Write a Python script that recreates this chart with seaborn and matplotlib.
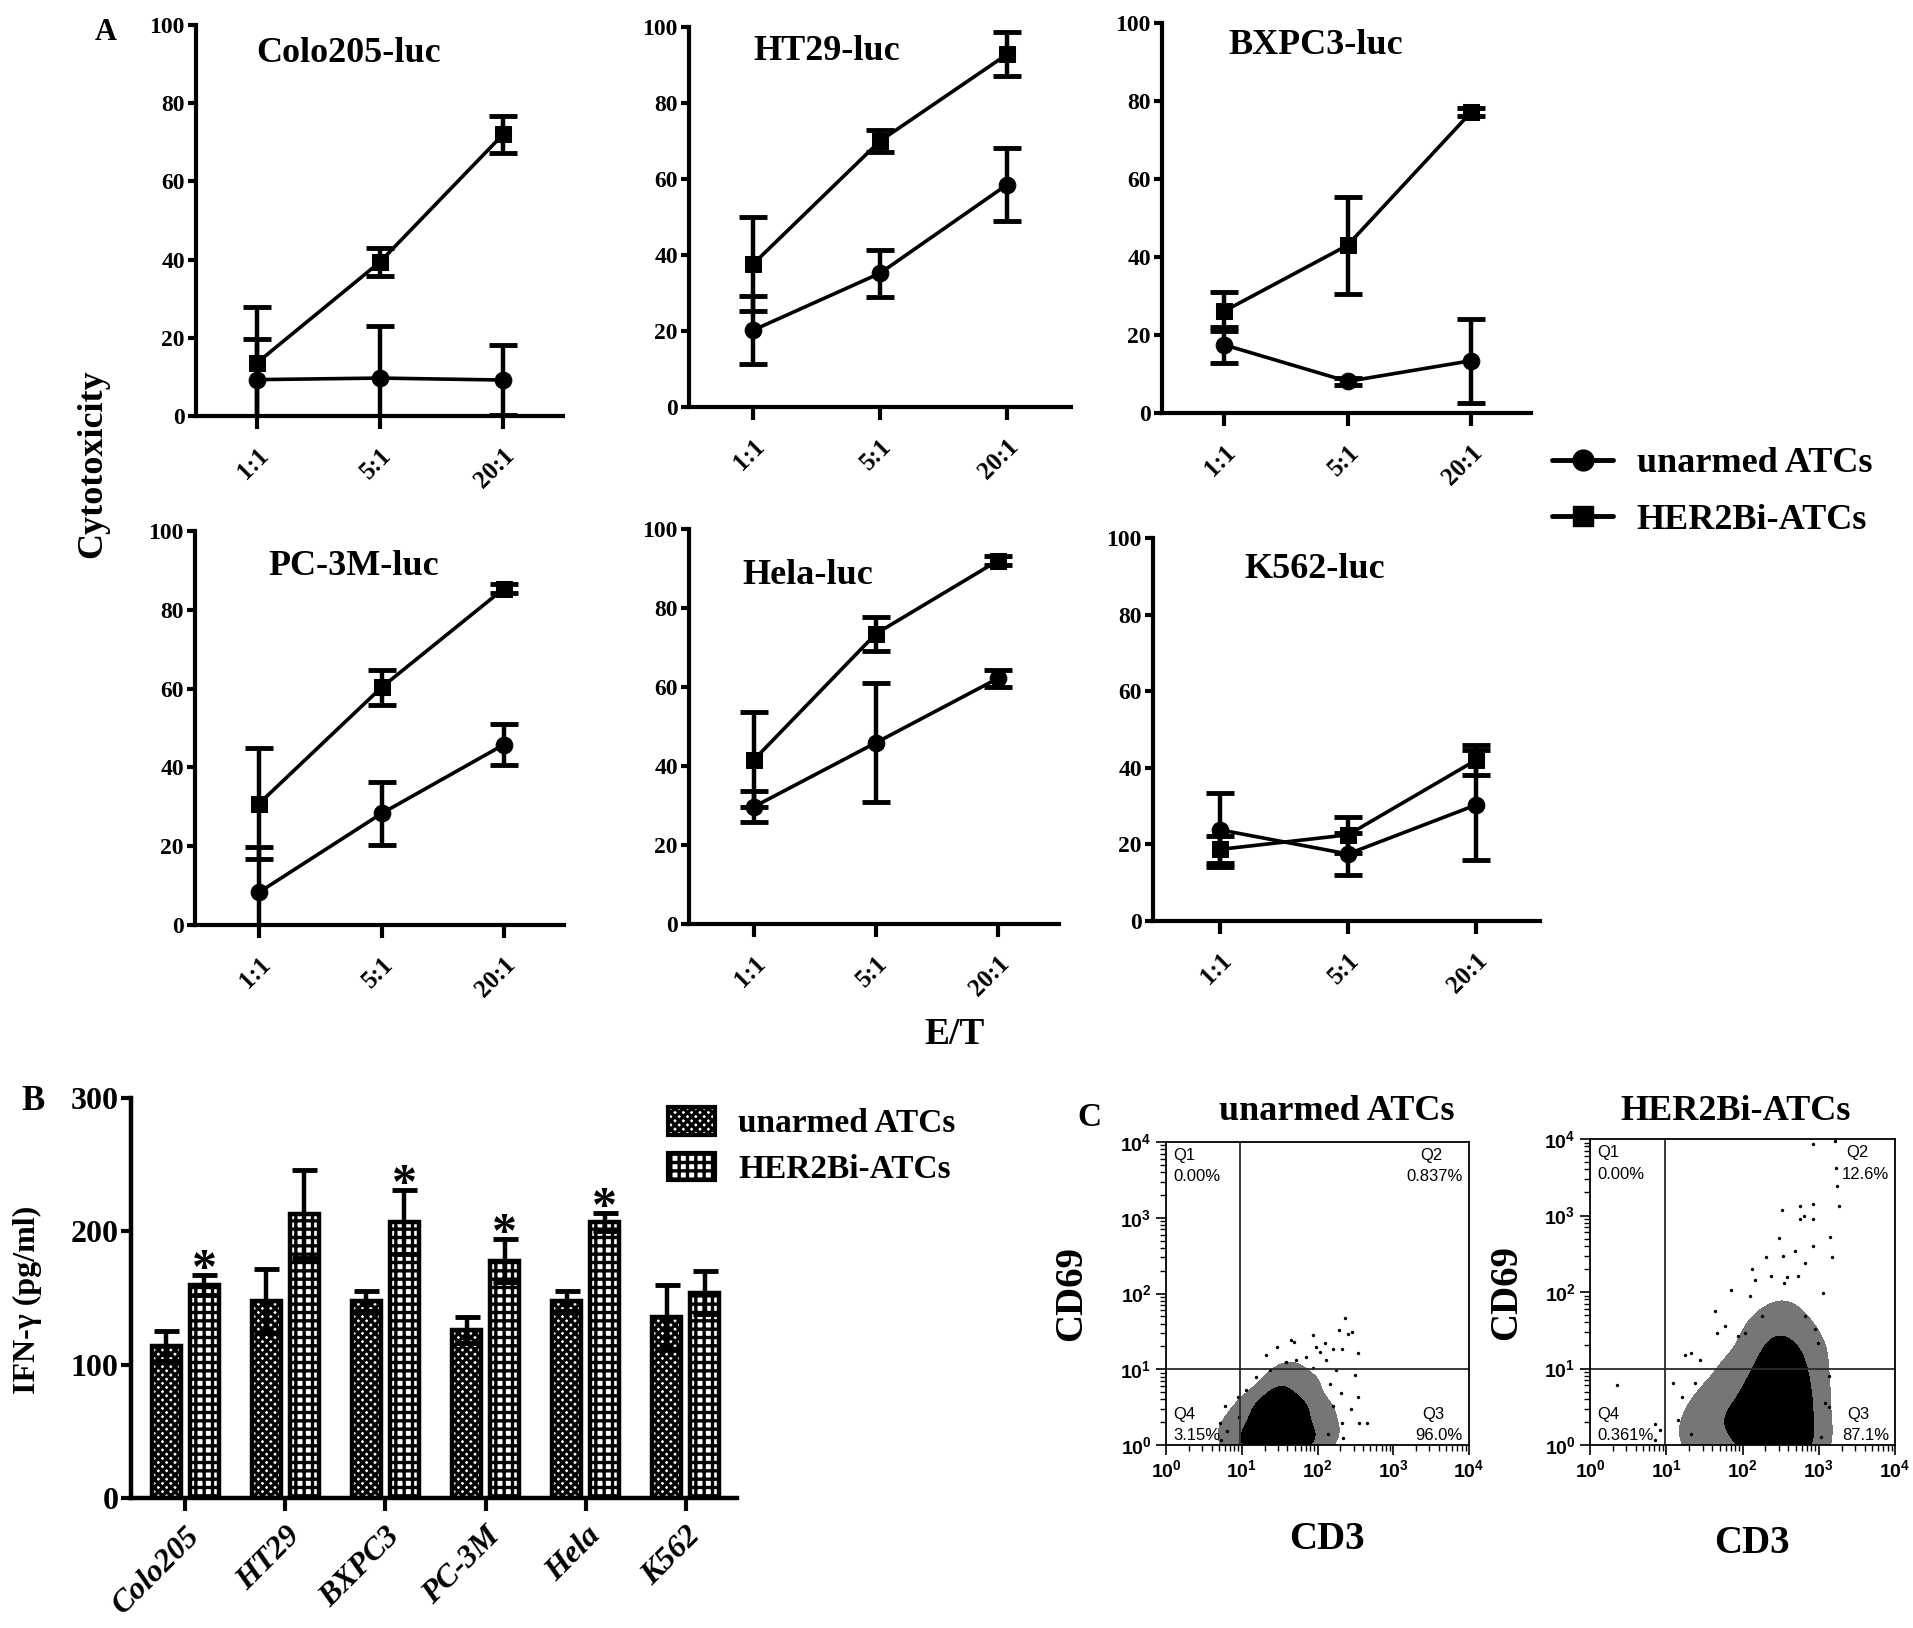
import numpy as np
import pandas as pd
import matplotlib
matplotlib.use("Agg")
import matplotlib.pyplot as plt
from matplotlib.lines import Line2D
from matplotlib.patches import Patch
from matplotlib.colors import ListedColormap
import seaborn as sns

sns.set_style("ticks", {"axes.edgecolor": "black", "text.color": "black",
                        "xtick.color": "black", "ytick.color": "black",
                        "axes.labelcolor": "black"})
plt.rcParams['font.family'] = ['Liberation Serif', 'DejaVu Serif']
plt.rcParams['font.weight'] = 'bold'
plt.rcParams['hatch.color'] = 'black'
plt.rcParams['hatch.linewidth'] = 2.4
plt.rcParams['mathtext.fontset'] = 'custom'
plt.rcParams['mathtext.rm'] = 'Liberation Sans'
plt.rcParams['mathtext.it'] = 'Liberation Sans:italic'
plt.rcParams['mathtext.bf'] = 'Liberation Sans:bold'

# ---------------- data: panel A (cytotoxicity, mean and SD) ----------------
ratios = ['1:1', '5:1', '20:1']

colo205_unarmed = [9.3, 9.7, 9.2]
colo205_unarmed_sd = [10.4, 13.3, 9.0]
colo205_her2 = [13.6, 39.4, 72.0]
colo205_her2_sd = [14.4, 3.5, 4.8]

ht29_unarmed = [20.2, 35.2, 58.5]
ht29_unarmed_sd = [9.0, 6.2, 9.6]
ht29_her2 = [37.6, 70.0, 92.8]
ht29_her2_sd = [12.4, 2.8, 5.8]

bxpc3_unarmed = [17.5, 8.1, 13.4]
bxpc3_unarmed_sd = [4.6, 1.0, 10.8]
bxpc3_her2 = [26.1, 43.0, 77.1]
bxpc3_her2_sd = [5.0, 12.5, 1.0]

pc3m_unarmed = [8.3, 28.3, 45.8]
pc3m_unarmed_sd = [11.5, 8.1, 5.3]
pc3m_her2 = [30.8, 60.3, 85.4]
pc3m_her2_sd = [14.0, 4.4, 1.2]

hela_unarmed = [29.7, 45.9, 62.2]
hela_unarmed_sd = [4.0, 15.1, 2.2]
hela_her2 = [41.6, 73.5, 92.0]
hela_her2_sd = [12.0, 4.3, 1.2]

k562_unarmed = [23.8, 17.5, 30.3]
k562_unarmed_sd = [9.7, 5.5, 14.3]
k562_her2 = [18.7, 22.5, 42.0]
k562_her2_sd = [3.5, 4.7, 3.9]

# ---------------- data: panel B (IFN-gamma) ----------------
ifn_lines = ['Colo205', 'HT29', 'BXPC3', 'PC-3M', 'Hela', 'K562']
ifn_unarmed = [114, 148, 148, 126, 148, 136]
ifn_unarmed_sd = [11, 24, 7.5, 10, 7.5, 24]
ifn_her2 = [160, 213, 207, 178, 207, 154]
ifn_her2_sd = [7.5, 33, 24, 16, 7, 16]
ifn_signif = [True, False, True, True, True, False]

# ---------------- data: panel C (flow, log10 units) ----------------
gate_cd3 = 0.98
gate_cd69 = 1.0
# density of events (x, y, relative weight)
un_dens_x = [1.50, 1.38, 1.62, 1.32, 1.68, 1.50, 1.18, 1.82, 1.10, 1.92, 1.00, 2.02, 1.62, 1.90, 0.85, 2.12,
             1.45, 1.65, 1.25, 1.85, 1.05]
un_dens_y = [0.30, 0.50, 0.50, 0.18, 0.18, 0.72, 0.45, 0.45, 0.12, 0.12, 0.30, 0.40, 0.92, 0.80, 0.15, 0.15,
             0.00, 0.00, 0.00, 0.00, 0.00]
un_dens_w = [10, 7, 7, 6, 6, 4, 3, 3, 3, 3, 1.5, 1.5, 1.5, 1, 1, 1,
             6, 5, 4, 2, 2]
her_dens_x = [2.45, 2.30, 2.60, 2.30, 2.60, 2.45, 2.20, 2.70, 2.00, 2.80, 1.80, 1.60, 1.40, 2.40, 2.65, 2.50, 2.20, 2.85, 1.90,
              2.35, 2.65, 2.05, 1.75, 2.85]
her_dens_y = [0.60, 0.40, 0.40, 0.82, 0.85, 1.02, 0.15, 0.15, 0.50, 0.60, 0.30, 0.50, 0.20, 1.30, 1.30, 1.60, 1.40, 1.10, 0.90,
              0.00, 0.00, 0.00, 0.05, 0.05]
her_dens_w = [10, 8, 8, 7, 7, 5, 5, 5, 4, 4, 3, 2, 2, 3, 3, 1.5, 1.5, 2, 2,
              5, 5, 3, 2, 3]
# single scattered events
un_dots_x = [2.36, 2.29, 2.40, 2.46, 1.94, 1.98, 1.65, 1.69, 1.46, 1.32, 2.10, 2.20, 2.32, 2.53, 2.03,
             1.85, 1.72, 1.59, 2.11, 2.25, 2.50, 2.31, 2.53, 2.44, 2.33, 2.55, 2.66, 2.34, 0.95, 0.78,
             0.71, 0.73, 0.80, 0.97, 1.06, 1.19, 1.37, 1.94, 2.16, 2.20, 2.14]
un_dots_y = [1.68, 1.52, 1.47, 1.49, 1.45, 1.30, 1.38, 1.36, 1.29, 1.19, 1.34, 1.27, 1.27, 1.22, 1.23,
             1.16, 1.12, 1.09, 1.12, 0.99, 0.92, 0.68, 0.64, 0.48, 0.29, 0.29, 0.29, 0.09, 0.64, 0.51,
             0.29, 0.07, 0.18, 0.37, 0.73, 0.90, 0.99, 1.01, 0.81, 0.51, 0.15]
her_dots_x = [2.92, 3.21, 3.24, 3.26, 3.23, 2.52, 2.76, 2.75, 2.80, 2.93, 2.93, 3.15, 2.48, 2.93, 3.18,
              2.31, 2.53, 2.69, 2.82, 2.12, 2.38, 2.58, 2.73, 1.85, 2.16, 2.55, 3.06, 2.10, 1.64, 1.66,
              1.77, 1.94, 1.24, 1.32, 1.44, 0.35, 0.85, 0.92, 0.85, 1.09, 1.20, 1.16, 1.33, 1.38, 2.99,
              3.14, 3.08, 3.14, 3.03, 2.95, 2.82, 2.25, 2.03]
her_dots_y = [3.93, 3.98, 3.39, 3.13, 3.62, 3.07, 3.12, 2.96, 2.99, 3.15, 2.95, 2.72, 2.70, 2.60, 2.46,
              2.46, 2.47, 2.54, 2.38, 2.30, 2.21, 2.19, 2.21, 2.03, 2.16, 2.12, 1.99, 1.95, 1.75, 1.46,
              1.55, 1.42, 1.17, 1.20, 1.11, 0.79, 0.28, 0.20, 0.07, 0.81, 0.63, 0.33, 0.15, 0.81, 1.33,
              0.90, 0.55, 0.50, 0.11, 1.51, 1.68, 1.68, 1.46]
un_quads = ['0.00%', '0.837%', '96.0%', '3.15%']
her_quads = ['0.00%', '12.6%', '87.1%', '0.361%']

W, H = 1913, 1628
fig = plt.figure(figsize=(W / 100, H / 100), dpi=100)


def box(l, r, bot, top):
    # pixel edges of the reference -> figure fraction rectangle
    return [l / W, 1 - bot / H, (r - l) / W, (bot - top) / H]


def ftext(px, py, s, **kw):
    fig.text(px / W, 1 - py / H, s, **kw)


# ================= panel A =================
panels_a = [
    ('Colo205-luc', colo205_unarmed, colo205_unarmed_sd, colo205_her2, colo205_her2_sd,
     (196, 563, 416, 25), (257, 123), (349, 54)),
    ('HT29-luc', ht29_unarmed, ht29_unarmed_sd, ht29_her2, ht29_her2_sd,
     (689, 1071, 407, 27), (753, 127), (827, 52)),
    ('BXPC3-luc', bxpc3_unarmed, bxpc3_unarmed_sd, bxpc3_her2, bxpc3_her2_sd,
     (1162, 1531, 413, 23), (1224, 123.5), (1316, 45)),
    ('PC-3M-luc', pc3m_unarmed, pc3m_unarmed_sd, pc3m_her2, pc3m_her2_sd,
     (195, 564, 925, 531), (259, 122.5), (354, 567)),
    ('Hela-luc', hela_unarmed, hela_unarmed_sd, hela_her2, hela_her2_sd,
     (689, 1059, 924, 529), (754, 122), (808, 575)),
    ('K562-luc', k562_unarmed, k562_unarmed_sd, k562_her2, k562_her2_sd,
     (1153, 1540, 921, 538), (1220, 128), (1315, 570)),
]

xpos = np.arange(len(ratios))
for title, um, usd, hm, hsd, (l, r, b, t), (t0, sp), (tx, ty) in panels_a:
    ax = fig.add_axes(box(l, r, b, t))
    for mean, sd, mk, ms in ((um, usd, 'o', 12), (hm, hsd, 's', 11)):
        sns.lineplot(x=xpos, y=mean, ax=ax, color='black', lw=2.6, marker=mk,
                     markersize=ms, markeredgecolor='black', legend=False)
        ax.errorbar(xpos, mean, yerr=sd, fmt='none', ecolor='black',
                    elinewidth=3.2, capsize=10, capthick=3.5)
    ax.set_xlim((l - t0) / sp, (r - t0) / sp)
    ax.set_ylim(0, 100)
    ax.set_xticks(xpos)
    ax.set_xticklabels(ratios, rotation=45, ha='right', rotation_mode='anchor',
                       fontsize=18, fontweight='bold')
    ax.set_yticks(range(0, 101, 20))
    ax.tick_params(axis='y', labelsize=17, width=3, length=6, pad=2)
    ax.tick_params(axis='x', width=3, length=9, pad=11)
    sns.despine(ax=ax)
    for s in ('left', 'bottom'):
        ax.spines[s].set_linewidth(3)
    ftext(tx, ty, title, ha='center', va='center', fontsize=26, fontweight='bold')

ftext(106, 33, 'A', ha='center', va='center', fontsize=22, fontweight='bold')
ftext(93, 464, 'Cytotoxicity', ha='center', va='center', rotation=90,
      fontsize=26, fontweight='bold')
ftext(955, 1035, 'E/T', ha='center', va='center', fontsize=27, fontweight='bold')

leg_a = [Line2D([0], [0], color='black', lw=3.5, marker='o', markersize=15),
         Line2D([0], [0], color='black', lw=3.5, marker='s', markersize=14)]
fig.legend(leg_a, ['unarmed ATCs', 'HER2Bi-ATCs'], loc='center left',
           bbox_to_anchor=(1552 / W, 1 - 492 / H), frameon=False, fontsize=26,
           handlelength=1.7, handletextpad=0.65, labelspacing=0.65,
           borderpad=0, borderaxespad=0)

# ================= panel B =================
df_b = pd.DataFrame({
    'line': ifn_lines * 2,
    'ifn': ifn_unarmed + ifn_her2,
    'group': ['unarmed ATCs'] * len(ifn_lines) + ['HER2Bi-ATCs'] * len(ifn_lines),
})
ax_b = fig.add_axes(box(131, 737, 1498, 1098))
sns.barplot(data=df_b, x='line', y='ifn', hue='group', errorbar=None,
            width=0.76, gap=0.24, palette=['white', 'white'], edgecolor='black',
            linewidth=3.2, legend=False, ax=ax_b)
for bar in ax_b.patches:
    cx = bar.get_x() + bar.get_width() / 2
    i = int(round(cx))
    if cx < i:
        bar.set_hatch('xxxx')
        sd = ifn_unarmed_sd[i]
    else:
        bar.set_hatch('++')
        sd = ifn_her2_sd[i]
        if ifn_signif[i]:
            ax_b.text(cx, bar.get_height() + sd - 6, '*', ha='center', va='baseline',
                      fontsize=36, fontweight='bold')
    ax_b.errorbar(cx, bar.get_height(), yerr=sd, fmt='none', ecolor='black',
                  elinewidth=3.2, capsize=9, capthick=3.5, zorder=3)
ax_b.set_xlim(-0.54, 5.51)
ax_b.set_ylim(0, 300)
ax_b.set_yticks([0, 100, 200, 300])
ax_b.set_xlabel('')
ax_b.set_ylabel('')
ax_b.set_xticks(range(len(ifn_lines)))
ax_b.set_xticklabels(ifn_lines, rotation=45, ha='right', rotation_mode='anchor',
                     fontsize=23, fontweight='bold', fontstyle='italic')
ax_b.tick_params(axis='y', labelsize=23, width=3, length=7, pad=2)
ax_b.tick_params(axis='x', width=3, length=9, pad=8)
sns.despine(ax=ax_b)
for s in ('left', 'bottom'):
    ax_b.spines[s].set_linewidth(3.2)
ftext(33, 1102, 'B', ha='center', va='center', fontsize=25, fontweight='bold')
ftext(27, 1300, 'IFN-γ (pg/ml)', ha='center', va='center', rotation=90,
      fontsize=23, fontweight='bold')
leg_b = [Patch(facecolor='white', edgecolor='black', hatch='xxxx', linewidth=3),
         Patch(facecolor='white', edgecolor='black', hatch='++', linewidth=3)]
fig.legend(leg_b, ['unarmed ATCs', 'HER2Bi-ATCs'], loc='center left',
           bbox_to_anchor=(668 / W, 1 - 1146 / H), frameon=False, fontsize=24,
           handlelength=1.4, handleheight=0.9, handletextpad=0.7,
           labelspacing=0.4, borderpad=0, borderaxespad=0)

# ================= panel C =================
flows = [
    ('unarmed ATCs', un_dens_x, un_dens_y, un_dens_w, un_dots_x, un_dots_y, un_quads,
     (1166, 1469, 1445, 1142), (1337, 1112), (-0.25, -0.25)),
    ('HER2Bi-ATCs', her_dens_x, her_dens_y, her_dens_w, her_dots_x, her_dots_y, her_quads,
     (1590, 1895, 1445, 1139), (1736, 1112), (-0.213, -0.26)),
]
flow_cmap = ListedColormap(['#767676', '#000000'])
decades = [0, 1, 2, 3, 4]
minor = [d + np.log10(k) for d in range(4) for k in range(2, 10)]
for title, dx, dy, dw, px, py, quads, (l, r, b, t), (tx, ty), (ylx, xly) in flows:
    ax = fig.add_axes(box(l, r, b, t))
    dens = pd.DataFrame({'cd3': dx, 'cd69': dy, 'w': dw})
    dots = pd.DataFrame({'cd3': px, 'cd69': py})
    sns.kdeplot(data=dens, x='cd3', y='cd69', weights='w', fill=True,
                levels=[0.03, 0.28, 1], cmap=flow_cmap, bw_adjust=0.95, ax=ax)
    sns.scatterplot(data=dots, x='cd3', y='cd69', s=6, color='black', linewidth=0, ax=ax)
    ax.axvline(gate_cd3, color='#2a2a2a', lw=1.3)
    ax.axhline(gate_cd69, color='#2a2a2a', lw=1.3)
    ax.set_xlim(0, 4)
    ax.set_ylim(0, 4)
    ax.set_xticks(decades)
    ax.set_yticks(decades)
    ax.set_xticks(minor, minor=True)
    ax.set_yticks(minor, minor=True)
    labels = ['$10^{%d}$' % d for d in decades]
    ax.set_xticklabels(labels, fontsize=14, fontweight='normal')
    ax.set_yticklabels(labels, fontsize=14, fontweight='normal')
    ax.tick_params(which='major', length=7, width=1.2, direction='out')
    ax.tick_params(which='minor', length=4, width=1.0, direction='out')
    for s in ax.spines.values():
        s.set_linewidth(1.3)
    ax.set_xlabel('CD3', fontsize=28, fontweight='bold')
    ax.set_ylabel('CD69', fontsize=28, fontweight='bold')
    ax.xaxis.set_label_coords(0.53, xly)
    ax.yaxis.set_label_coords(ylx, 0.5)
    qk = dict(transform=ax.transAxes, fontsize=12, fontweight='normal',
              family=['Liberation Sans', 'DejaVu Sans'], va='center')
    ax.text(0.025, 0.955, 'Q1', ha='left', **qk)
    ax.text(0.025, 0.885, quads[0], ha='left', **qk)
    ax.text(0.84, 0.955, 'Q2', ha='left', **qk)
    ax.text(0.98, 0.885, quads[1], ha='right', **qk)
    ax.text(0.025, 0.10, 'Q4', ha='left', **qk)
    ax.text(0.025, 0.03, quads[3], ha='left', **qk)
    ax.text(0.845, 0.10, 'Q3', ha='left', **qk)
    ax.text(0.98, 0.03, quads[2], ha='right', **qk)
    ftext(tx, ty, title, ha='center', va='center', fontsize=26, fontweight='bold')

ftext(1089, 1117, 'C', ha='center', va='center', fontsize=24, fontweight='bold')

fig.savefig('out.png', dpi=100, facecolor='white')
